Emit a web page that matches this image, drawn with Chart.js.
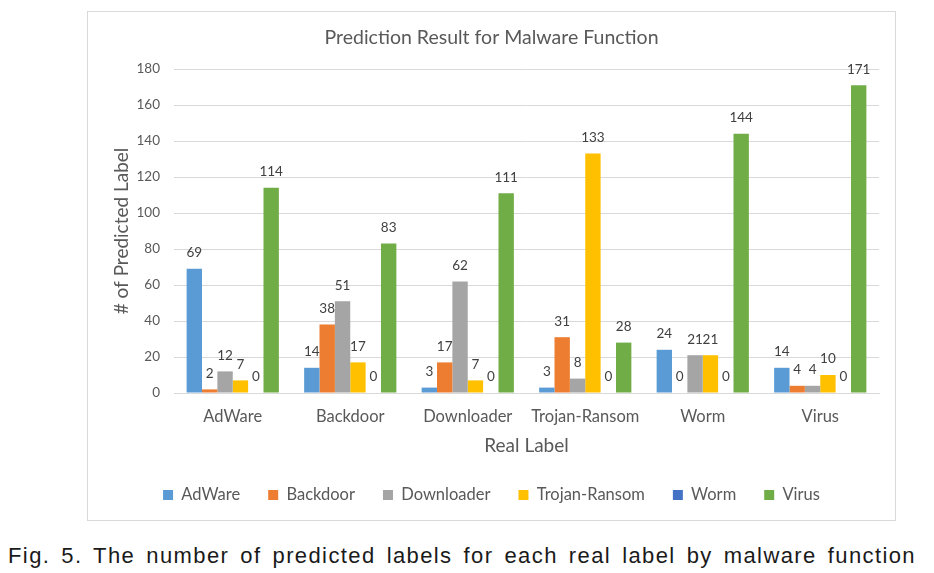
<!DOCTYPE html>
<html>
<head>
<meta charset="utf-8">
<script src="https://cdn.jsdelivr.net/npm/chart.js@4"></script>
<style>
  html, body { margin: 0; padding: 0; background: #ffffff; }
  body { width: 934px; height: 573px; position: relative; overflow: hidden; }
  #frame { position: absolute; left: 87px; top: 11px; width: 807px; height: 508px; border: 1px solid #d9d9d9; }
  #caption { position: absolute; left: 8px; top: 543px; width: 908px; font-family: "Liberation Sans", Arial, sans-serif; font-size: 22px; color: #1a1a1a; text-align: justify; text-align-last: justify; letter-spacing: 1.4px; white-space: nowrap; }
</style>
</head>
<body>
<div id="frame"><canvas id="c" width="807" height="508"></canvas></div>
<div id="caption">Fig. 5. The number of predicted labels for each real label by malware function</div>
<script>
const categories = ["AdWare", "Backdoor", "Downloader", "Trojan-Ransom", "Worm", "Virus"];
const seriesNames = ["AdWare", "Backdoor", "Downloader", "Trojan-Ransom", "Worm", "Virus"];
const adware = [69, 14, 3, 3, 24, 14];
const backdoor = [2, 38, 17, 31, 0, 4];
const downloader = [12, 51, 62, 8, 21, 4];
const trojanRansom = [7, 17, 7, 133, 21, 10];
const worm = [0, 0, 0, 0, 0, 0];
const virus = [114, 83, 111, 28, 144, 171];
const yTicks = [0, 20, 40, 60, 80, 100, 120, 140, 160, 180];
const colors = ["#5B9BD5", "#ED7D31", "#A5A5A5", "#FFC000", "#4472C4", "#70AD47"];
const seriesValues = [adware, backdoor, downloader, trojanRansom, worm, virus];

Chart.defaults.font.family = 'Lato, "Open Sans", sans-serif';
Chart.defaults.color = '#595959';

const dataLabels = {
  id: 'dataLabels',
  afterDatasetsDraw(chart) {
    const ctx = chart.ctx;
    ctx.save();
    ctx.font = '13.5px Lato, "Open Sans", sans-serif';
    ctx.fillStyle = '#404040';
    ctx.textAlign = 'center';
    ctx.textBaseline = 'middle';
    chart.data.datasets.forEach((ds, di) => {
      const meta = chart.getDatasetMeta(di);
      meta.data.forEach((el, i) => {
        ctx.fillText(String(ds.data[i]), el.x, el.y - 16);
      });
    });
    ctx.restore();
  }
};

new Chart(document.getElementById('c'), {
  type: 'bar',
  data: {
    labels: categories,
    datasets: seriesNames.map((n, i) => ({
      label: n,
      data: seriesValues[i],
      backgroundColor: colors[i],
      borderWidth: 0,
      barPercentage: 1.0,
      categoryPercentage: 0.785
    }))
  },
  options: {
    responsive: false,
    animation: false,
    devicePixelRatio: 1,
    layout: { padding: { left: 0, right: 0, top: 0, bottom: 6.75 } },
    plugins: {
      title: {
        display: true,
        text: 'Prediction Result for Malware Function',
        color: '#595959',
        font: { size: 19.5, weight: 'normal' },
        padding: { top: 14.3, bottom: 19.3 }
      },
      legend: {
        position: 'bottom',
        labels: {
          boxWidth: 10,
          boxHeight: 10,
          padding: 28,
          color: '#595959',
          font: { size: 16.5 }
        }
      },
      tooltip: { enabled: false }
    },
    scales: {
      x: {
        grid: { display: false, drawTicks: false },
        border: { display: true, color: '#d9d9d9' },
        ticks: { padding: 14, color: '#595959', font: { size: 16.5 } },
        title: { display: true, text: 'Real Label', color: '#595959', font: { size: 19 }, padding: { top: 0, bottom: 1.5 } },
        afterFit(s) { s.height = 65.75; }
      },
      y: {
        min: 0,
        max: 180,
        afterBuildTicks(s) { s.ticks = yTicks.map(v => ({ value: v })); },
        grid: { color: '#d9d9d9', drawTicks: false },
        border: { display: false },
        ticks: { padding: 14, color: '#595959', font: { size: 13.5 } },
        title: { display: true, text: '# of Predicted Label', color: '#595959', font: { size: 19 }, padding: { top: 22.6, bottom: 0 } },
        afterFit(s) { s.width = 86; }
      },
      y2: {
        position: 'right',
        display: true,
        grid: { display: false, drawTicks: false },
        border: { display: false },
        ticks: { display: false },
        afterFit(s) { s.width = 16; }
      }
    }
  },
  plugins: [dataLabels]
});
</script>
</body>
</html>
